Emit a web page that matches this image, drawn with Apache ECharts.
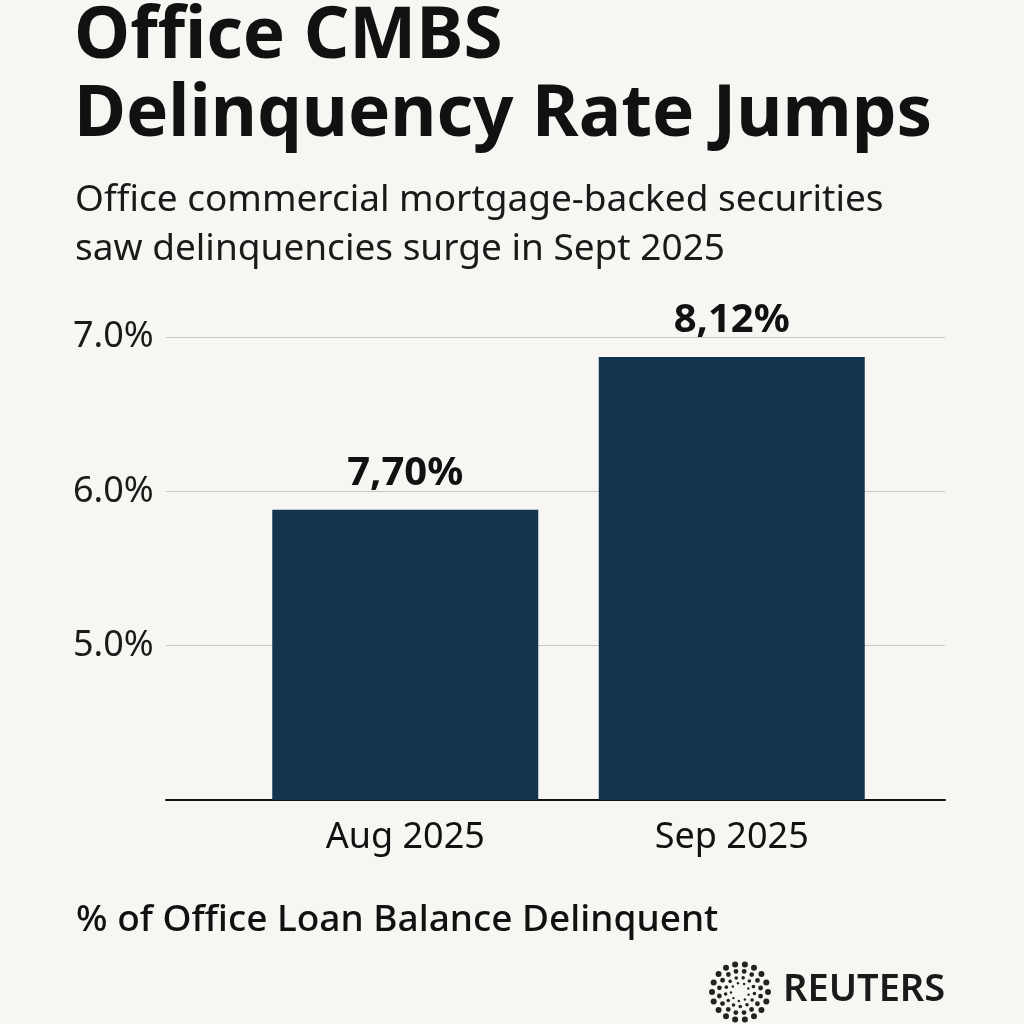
<!DOCTYPE html>
<html>
<head>
<meta charset="utf-8">
<script src="https://cdn.jsdelivr.net/npm/echarts@6/dist/echarts.min.js"></script>
<style>
  html, body { margin: 0; padding: 0; background: #f7f6f2; }
  #chart { width: 1024px; height: 1024px; }
</style>
</head>
<body>
<div id="chart"></div>
<script>
var months = ['Aug 2025', 'Sep 2025'];
var barValues = [5.88, 6.87];
var barLabels = ['7,70%', '8,12%'];
var yTicks = [4, 5, 6, 7];

var FONT = '"Noto Sans", "Open Sans", sans-serif';

// little dotted ring for the logo
function logoDots(cx, cy) {
    var rings = [
        { r: 28, n: 18, s: 3.0, a: 0 },
        { r: 21, n: 16, s: 2.4, a: 0.2 },
        { r: 14.5, n: 13, s: 1.8, a: 0.1 },
        { r: 9, n: 9, s: 1.2, a: 0.3 }
    ];
    var out = [];
    rings.forEach(function (ring) {
        for (var i = 0; i < ring.n; i++) {
            var ang = ring.a + i * Math.PI * 2 / ring.n;
            out.push({
                type: 'circle',
                shape: { cx: cx + Math.cos(ang) * ring.r, cy: cy + Math.sin(ang) * ring.r, r: ring.s },
                style: { fill: '#222' }
            });
        }
    });
    return out;
}

var myChart = echarts.init(document.getElementById('chart'));

var option = {
    backgroundColor: '#f7f6f2',
    textStyle: { fontFamily: FONT },
    title: [{
        text: 'Office CMBS\nDelinquency Rate Jumps',
        left: 69,
        top: -6,
        textStyle: { fontFamily: FONT, fontSize: 71, fontWeight: 'bold', color: '#111', lineHeight: 78 }
    }, {
        text: 'Office commercial mortgage-backed securities\nsaw delinquencies surge in Sept 2025',
        left: 70,
        top: 171,
        textStyle: { fontFamily: FONT, fontSize: 37, fontWeight: 'normal', color: '#1a1a1a', lineHeight: 49 }
    }, {
        text: '% of Office Loan Balance Delinquent',
        left: 71,
        top: 893,
        textStyle: { fontFamily: FONT, fontSize: 37, fontWeight: 500, color: '#111', lineHeight: 44 }
    }],
    grid: [
        { left: 166, right: 79, top: 337, bottom: 224 },
        { left: 242, right: 129, top: 337, bottom: 224 }
    ],
    xAxis: [{
        gridIndex: 0,
        type: 'category',
        data: [],
        axisLine: { show: true, lineStyle: { color: '#111', width: 2 } },
        axisTick: { show: false },
        axisLabel: { show: false }
    }, {
        gridIndex: 1,
        type: 'category',
        data: months,
        axisLine: { show: false },
        axisTick: { show: false },
        axisLabel: { margin: 20, fontSize: 36, color: '#111', fontFamily: FONT }
    }],
    yAxis: [{
        gridIndex: 0,
        type: 'value',
        min: yTicks[0],
        max: yTicks[yTicks.length - 1],
        interval: 1,
        axisLine: { show: false },
        axisTick: { show: false },
        splitLine: { lineStyle: { color: '#c9c7c2', width: 1 } },
        axisLabel: {
            align: 'left',
            margin: 93,
            fontSize: 36,
            color: '#1a1a1a',
            fontFamily: FONT,
            formatter: function (v) { return v === yTicks[0] ? '' : v.toFixed(1) + '%'; }
        }
    }, {
        gridIndex: 1,
        type: 'value',
        min: yTicks[0],
        max: yTicks[yTicks.length - 1],
        show: false
    }],
    series: [{
        type: 'bar',
        xAxisIndex: 1,
        yAxisIndex: 1,
        data: barValues,
        barWidth: 266,
        itemStyle: { color: '#13344e' },
        label: {
            show: true,
            position: 'top',
            distance: 15,
            fontSize: 40,
            fontWeight: 'bold',
            color: '#111',
            lineHeight: 42,
            fontFamily: FONT,
            formatter: function (p) { return barLabels[p.dataIndex]; }
        }
    }],
    graphic: logoDots(740, 992).concat([{
        type: 'text',
        left: 783,
        top: 971,
        style: { text: 'REUTERS', fontFamily: FONT, fontSize: 38, fontWeight: 600, fill: '#1a1a1a' }
    }])
};

myChart.setOption(option);
</script>
</body>
</html>
